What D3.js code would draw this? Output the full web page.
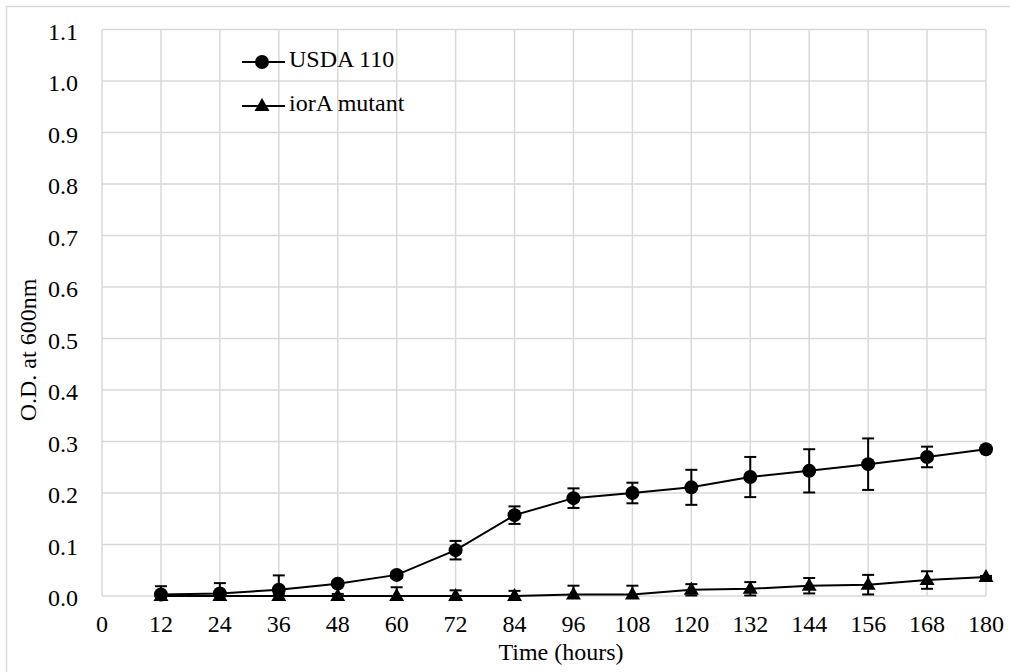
<!DOCTYPE html>
<html>
<head>
  <meta charset="utf-8">
  <title>Growth curve</title>
  <style>
    body { margin: 0; background: #fff; }
    svg text { font-family: "Liberation Serif", "DejaVu Serif", serif; fill: #000; }
    .grid line { stroke: #d9d9d9; stroke-width: 1.5px; }
    .series { fill: none; stroke: #000; stroke-width: 2px; }
    .err { stroke: #000; stroke-width: 2px; }
  </style>
</head>
<body>
  <svg width="1010" height="672" font-family="Liberation Serif, DejaVu Serif, serif"></svg>
  <script src="https://d3js.org/d3.v7.min.js"></script>
  <script>
    // values
    const hours = [12, 24, 36, 48, 60, 72, 84, 96, 108, 120, 132, 144, 156, 168, 180];
    const usda = [0.003, 0.005, 0.012, 0.024, 0.041, 0.089, 0.157, 0.190, 0.200, 0.211, 0.231, 0.243, 0.256, 0.270, 0.285];
    const usdaErr = [0.016, 0.020, 0.028, 0.005, 0.006, 0.018, 0.017, 0.019, 0.020, 0.034, 0.039, 0.042, 0.050, 0.020, 0.003];
    const iorA = [0, 0, 0, 0, 0, 0, 0, 0.003, 0.003, 0.012, 0.014, 0.020, 0.022, 0.031, 0.037];
    const iorAErr = [0.004, 0.004, 0.004, 0.004, 0.017, 0.011, 0.010, 0.017, 0.017, 0.011, 0.013, 0.015, 0.019, 0.017, 0.002];
    const xTicks = d3.range(0, 181, 12);
    const yTicks = d3.range(0, 12).map(d => d / 10);
    const seriesNames = ["USDA 110", "iorA mutant"];

    const svg = d3.select("svg");
    const serif = "'Liberation Serif', 'DejaVu Serif', serif";

    // chart border
    svg.append("rect")
        .attr("x", 6.5).attr("y", 6.5)
        .attr("width", 1010).attr("height", 672)
        .attr("fill", "none").attr("stroke", "#d9d9d9").attr("stroke-width", 1.5);

    const x = d3.scaleLinear().domain([0, 180]).range([102, 986]);
    const y = d3.scaleLinear().domain([0, 1.1]).range([596, 29.5]);

    // gridlines
    const grid = svg.append("g").attr("class", "grid");
    grid.selectAll(".v").data(xTicks).enter().append("line")
        .attr("x1", d => x(d)).attr("x2", d => x(d))
        .attr("y1", y(0)).attr("y2", y(1.1));
    grid.selectAll(".h").data(yTicks).enter().append("line")
        .attr("x1", x(0)).attr("x2", x(180))
        .attr("y1", d => y(d)).attr("y2", d => y(d));

    // tick labels
    svg.append("g").selectAll("text").data(yTicks).enter().append("text")
        .attr("x", 78).attr("y", d => y(d) + 10)
        .attr("text-anchor", "end").attr("font-size", 24)
        .style("font-family", serif)
        .text(d => d.toFixed(1));
    svg.append("g").selectAll("text").data(xTicks).enter().append("text")
        .attr("x", d => x(d)).attr("y", 632)
        .attr("text-anchor", "middle").attr("font-size", 24)
        .style("font-family", serif)
        .text(d => d);

    // axis titles
    svg.append("text")
        .attr("x", 561).attr("y", 660)
        .attr("text-anchor", "middle").attr("font-size", 24)
        .style("font-family", serif)
        .text("Time (hours)");
    svg.append("text")
        .attr("transform", "translate(36,350) rotate(-90)")
        .attr("text-anchor", "middle").attr("font-size", 24)
        .style("font-family", serif)
        .text("O.D. at 600nm");

    const circle = "M7,0A7,7 0 1,1 -7,0A7,7 0 1,1 7,0Z";
    const triangle = "M0,-8L7.5,5L-7.5,5Z";

    function drawSeries(vals, errs, marker) {
      const pts = hours.map((h, i) => ({ h: h, v: vals[i], e: errs[i] }));
      const g = svg.append("g");
      g.append("path").attr("class", "series")
          .attr("d", d3.line().x(d => x(d.h)).y(d => y(d.v))(pts));
      const eb = g.selectAll(".eb").data(pts).enter().append("g").attr("class", "err");
      eb.append("line")
          .attr("x1", d => x(d.h)).attr("x2", d => x(d.h))
          .attr("y1", d => y(d.v + d.e)).attr("y2", d => y(Math.max(0, d.v - d.e)));
      eb.append("line")
          .attr("x1", d => x(d.h) - 6).attr("x2", d => x(d.h) + 6)
          .attr("y1", d => y(d.v + d.e)).attr("y2", d => y(d.v + d.e));
      eb.filter(d => d.v - d.e >= 0).append("line")
          .attr("x1", d => x(d.h) - 6).attr("x2", d => x(d.h) + 6)
          .attr("y1", d => y(d.v - d.e)).attr("y2", d => y(d.v - d.e));
      g.selectAll(".m").data(pts).enter().append("path")
          .attr("d", marker).attr("fill", "#000")
          .attr("transform", d => `translate(${x(d.h)},${y(d.v)})`);
    }

    drawSeries(iorA, iorAErr, triangle);
    drawSeries(usda, usdaErr, circle);

    // legend
    const legend = svg.append("g");
    [circle, triangle].forEach((m, i) => {
      const ly = 62 + i * 44;
      legend.append("line").attr("class", "series")
          .attr("x1", 242).attr("x2", 285).attr("y1", ly).attr("y2", ly);
      legend.append("path").attr("d", m).attr("fill", "#000")
          .attr("transform", `translate(262,${ly})`);
      legend.append("text").attr("x", 289).attr("y", ly + 5)
          .attr("font-size", 24).style("font-family", serif)
          .text(seriesNames[i]);
    });
  </script>
</body>
</html>
